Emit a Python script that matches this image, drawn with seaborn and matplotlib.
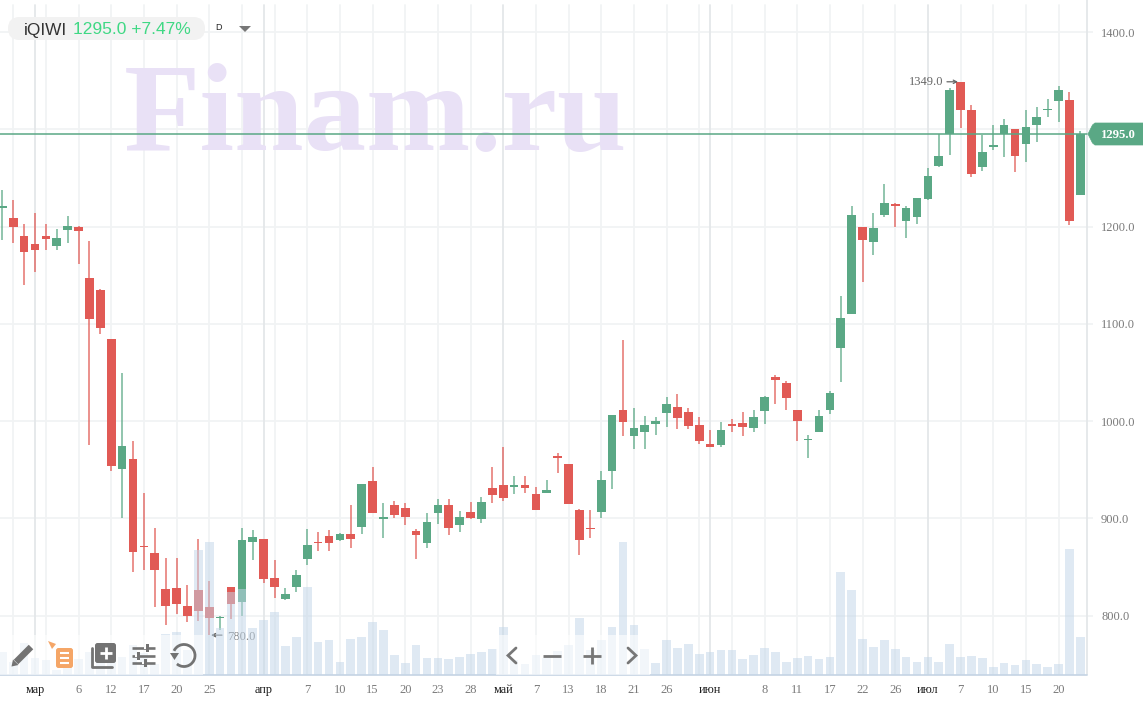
import numpy as np
import pandas as pd
import matplotlib
matplotlib.use("Agg")
import matplotlib.pyplot as plt
from matplotlib.patches import FancyBboxPatch, Polygon, Rectangle, Arc
import seaborn as sns

opens = [1219,1209,1190,1182,1190,1180,1197,1200,1147.5,1135,1085,951,961,872,864.4,827,828,810,826,809,
         798,829.5,814,876,878.5,839,817,829,858,876,882,878,883.5,891,938,899.5,914,910.6,887.4,875,
         906,914,893,906.5,899.3,931,934.5,932.8,934.5,925.6,926,964,956,909,890,907,949,1011,985,989,
         996.6,1008,1015,1009,996,977,976,997.6,998.6,993,1010,1045.4,1039,1011.7,980.4,989,1012,1075.6,1110,1200,
         1184.5,1212,1223.3,1205.5,1209.6,1228.8,1262,1295,1349,1320,1261,1282,1295,1300.6,1285.5,1304.8,1320,1329,1330,1232.6]
highs = [1238,1227.5,1203,1214,1203,1198,1211,1201,1185,1136,1085,1050,980,926.5,890.5,859.5,859.5,832,878.5,836,
         800,829.5,890.5,888,878.5,857,828.5,847,889,886,888,885,914,935,953,916,918.4,916,889.4,905.5,
         919.5,919.5,908,917,922,953,973,944,944,932,940,967,956,910,909,949,1006.5,1083,1014,1005.5,
         1004,1024.6,1028,1014,1003.8,991,999,1002.7,1009,1011,1025.6,1047.4,1041,1011.7,986,1011.7,1030.6,1129,1221,1200,
         1214,1243.6,1224.7,1221.6,1230,1260.8,1295,1343,1349,1325.4,1294.5,1304.4,1310.6,1300.6,1320,1322.6,1331,1345,1338,1298]
lows = [1186,1183,1140,1153,1176,1176,1183,1162,975,1090,949,900,845,847,809,790.4,802,794,795,780,
        785.5,797,800,857,834,818,816,824,852,866,866,877,870,884,906,880,900.3,893,858,870,
        894,882.6,886,899,895,916,918,925,926,909,926,946.4,915,862,880,900,930,985,971,971,
        986,994,991.5,991.5,977,973.4,973.4,989,985,989,997,1017.5,1012,980,962,989,1007.6,1040,1110,1143,
        1171,1210,1200,1188.6,1202.7,1227.5,1261,1274,1301,1251.5,1257,1279,1272,1256.7,1267,1286.6,1313,1308,1201.7,1232.6]
closes = [1221,1200,1174,1176,1187,1188,1201,1196,1105.5,1096,954,974,865,871,847,810,812,800,804.5,798,
          799,812,877.5,881,838,830,822,842,873,875,875,883.5,879,935,906,901.5,904,901,882.6,896,
          914,890.4,901.4,900.3,917,924.6,921,934.5,931,909,929,962,915,877.5,889,940,1006.5,999.3,993.5,996,
          1000,1018,1003,995,980,973.4,991,995,994,1003.8,1024.7,1042,1024,999.7,982,1005,1029,1105.8,1211.7,1186,
          1199,1224,1221,1219,1229.5,1252.5,1273,1340.5,1320,1254.6,1277,1283.5,1304.4,1272.5,1303,1313,1321,1340.5,1205.5,1295]
volumes = [23,13,32,17,15,5,18,16,23,28,25,18,30,22,11,41.5,43,25,125.5,133,
           47,83,86,46.6,55.5,63,29.5,38,88,33,35,13,36,38,53,44.7,19.7,12,30,17,
           17,15.7,18,20.7,23,25.7,48,15,10.7,20,17,24,30,57,25,35,48,133,50,25.7,
           12,35,27,30.7,20.7,23,24.7,24.7,15.7,19.7,27,23,13,17,19,15.7,18,103,84.7,35.7,
           28,34.7,25.7,18,13,18,13,30.7,18,19,17,8,12,9.7,14.7,10.7,8,10.7,125.7,38]

grid_idx = [1,4,7,10,13,16,19,22,25,28,31,34,37,40,43,49,52,55,58,61,64,67,70,73,76,79,82,88,91,94,97]
month_idx = [3,24,46,65,85]
tick_idx = [3,7,10,13,16,19,24,28,31,34,37,40,43,46,49,52,55,58,61,65,70,73,76,79,82,85,88,91,94,97]
tick_labels = ["мар","6","12","17","20","25","апр","7","10","15","20","23","28","май","7","13","18","21","26",
               "июн","8","11","17","22","26","июл","7","10","15","20"]
price_ticks = [800,900,1000,1100,1200,1300,1400]
price_labels = ["800.0","900.0","1000.0","1100.0","1200.0","","1400.0"]
last_price = 1295.0
price_high = 1349.0
price_low = 780.0

RED, GREEN = "#e15a55", "#5aa885"
GRID, GRID_D, TXT = "#f1f3f4", "#e4e7e9", "#7a7a7a"
SERIF = "Liberation Serif"
SANS = "Liberation Sans"

sns.set_theme(style="white")
plt.rcParams["font.family"] = [SERIF, "DejaVu Serif"]

df = pd.DataFrame({"i": np.arange(len(opens)), "open": opens, "high": highs,
                   "low": lows, "close": closes, "vol": volumes})
df["up"] = df["close"] >= df["open"]
df["color"] = np.where(df["up"], GREEN, RED)

W, H = 1143, 707
fig = plt.figure(figsize=(W / 100, H / 100), dpi=100, facecolor="white")
ax = fig.add_axes([0, 32 / H, 1093 / W, 675 / H])
ov = fig.add_axes([0, 0, 1, 1], zorder=10)
ov.set_xlim(0, W); ov.set_ylim(H, 0); ov.axis("off"); ov.patch.set_alpha(0)

XLIM = (-0.211, 100.16)
YLIM = (739.0, 1433.1)
S = 10.89
def xi(px):
    return (px - 2.3) / S

# grid
for p in price_ticks:
    ax.axhline(p, color=GRID, lw=1.3, zorder=1)
for g in grid_idx:
    ax.axvline(g, ymax=0.993, color=GRID, lw=1.3, zorder=1)
for g in month_idx:
    ax.axvline(g, ymax=0.993, color=GRID_D, lw=1.3, zorder=1)
ax.axvline(xi(1087), color=GRID_D, lw=1.3, zorder=1)

# watermark
ax.text(124, 150, "Finam.ru", transform=ov.transData, family=SERIF, weight="bold",
        fontsize=90, color="#e9e1f6", va="baseline", ha="left", zorder=1.5)

# candles
ax.vlines(df["i"], df["low"], df["high"], colors=df["color"], lw=1.3, alpha=0.72, zorder=3)
ax.bar(df["i"], (df["close"] - df["open"]).abs(), bottom=df[["open", "close"]].min(axis=1),
       width=0.8, color=df["color"], lw=0, zorder=4)

# current price line
ax.plot([XLIM[0], xi(1087)], [last_price, last_price], color=GREEN, lw=1.1, zorder=5)

# high / low marks
ax.text(xi(943), price_high, f"{price_high:.1f}", ha="right", va="center", color="#666666", fontsize=9, zorder=6)
ax.annotate("", xy=(xi(958), price_high), xytext=(xi(947), price_high), zorder=6,
            arrowprops=dict(arrowstyle="->", color="#666666", lw=0.9, mutation_scale=6, shrinkA=0, shrinkB=0))
ax.text(xi(227), price_low - 2, f"{price_low:.1f}", ha="left", va="center", color="#7f7f7f", fontsize=9, zorder=6)
ax.annotate("", xy=(xi(211), price_low), xytext=(xi(222), price_low), zorder=6,
            arrowprops=dict(arrowstyle="->", color="#666666", lw=0.9, mutation_scale=6, shrinkA=0, shrinkB=0))

# volume bars in a twin axis, over the candles
ax2 = ax.twinx()
sns.barplot(data=df, x="i", y="vol", native_scale=True, ax=ax2, color="#c3d6e8",
            saturation=1, alpha=0.52, width=0.8, linewidth=0, zorder=2)
ax2.set_ylim(0, 675)
ax2.axis("off")

ax.set_xlim(*XLIM)
ax.set_ylim(*YLIM)
ax.yaxis.tick_right()
ax.set_yticks(price_ticks, price_labels)
ax.set_xticks(tick_idx, tick_labels)
ax.tick_params(axis="y", length=0, colors=TXT, labelsize=9, pad=5.8)
ax.tick_params(axis="x", length=3.5, width=1, color="#c9d3da", labelcolor=TXT, labelsize=9, pad=3)
for tick, idx in zip(ax.xaxis.get_major_ticks(), tick_idx):
    if idx in month_idx:
        tick.label1.set_color("#1c1c1c")
        tick.label1.set_fontsize(8.8)
    else:
        tick.tick1line.set_visible(False)
for s in ax.spines.values():
    s.set_visible(False)
ax.plot([XLIM[0], xi(1087)], [YLIM[0], YLIM[0]], color="#c9d7e5", lw=1.3, clip_on=False, zorder=7)
ax.set_xlabel(""); ax.set_ylabel("")
ax.grid(False)

# price tag
ov.add_patch(Polygon([(1088, 134), (1092.5, 125), (1095, 123), (1143, 123), (1143, 145), (1095, 145), (1092.5, 143)],
                     closed=True, fc=GREEN, ec=GREEN, lw=0.5, zorder=5))
ov.text(1118, 134.5, f"{last_price:.1f}", color="white", ha="center", va="center", fontsize=9.2,
        weight="bold", family=SERIF, zorder=6)

# header pill
ov.add_patch(FancyBboxPatch((8, 17), 197, 23, boxstyle="round,pad=0,rounding_size=11.5", fc="#f2f2f2", ec="none", zorder=2))
ov.text(24, 34.5, "iQIWI", family=SANS, fontsize=12.4, color="#333333", va="baseline", zorder=3)
ov.text(73, 34.5, "1295.0 +7.47%", family=SANS, fontsize=12.5, color="#3fd884", va="baseline", zorder=3)
ov.text(219, 28, "D", family=SANS, fontsize=6.5, color="#222222", ha="center", va="center", zorder=3)
ov.add_patch(Polygon([(239, 26), (251, 26), (245, 32)], closed=True, fc="#777777", ec="none", zorder=3))

# toolbars
for x0, x1 in [(0, 203), (496, 650)]:
    ov.add_patch(Rectangle((x0, 635), x1 - x0, 39.5, fc="white", ec="none", alpha=0.6, zorder=1))
IC = "#737373"
# pencil
ov.plot([16, 31], [662, 647], color=IC, lw=4.6, solid_capstyle="butt", zorder=3)
ov.add_patch(Polygon([(11.5, 666.5), (13, 659.5), (18.5, 665)], closed=True, fc=IC, ec="none", zorder=3))
# note icon
ov.add_patch(Polygon([(48, 641), (56, 644), (52, 649)], closed=True, fc="#f5a667", ec="none", zorder=3))
ov.add_patch(FancyBboxPatch((56, 648), 17, 20, boxstyle="round,pad=0,rounding_size=2.5", fc="#f5a667", ec="none", zorder=3))
for yy in (653, 658, 663):
    ov.plot([60, 69], [yy, yy], color="white", lw=1.5, solid_capstyle="butt", zorder=4)
# layers plus
ov.add_patch(FancyBboxPatch((95, 643), 21, 20, boxstyle="round,pad=0,rounding_size=2.5", fc=IC, ec="none", zorder=3))
ov.plot([105.5, 105.5], [647, 659], color="white", lw=2, zorder=4, solid_capstyle="butt")
ov.plot([99.5, 111.5], [653, 653], color="white", lw=2, zorder=4, solid_capstyle="butt")
ov.plot([91.5, 91.5, 112], [648, 667, 667], color=IC, lw=2, zorder=3, solid_joinstyle="round")
# sliders
for yy, a in zip((648, 655.5, 663), (146, 137, 144)):
    ov.plot([132, 155], [yy, yy], color=IC, lw=1.9, zorder=3, solid_capstyle="butt")
    ov.add_patch(Rectangle((a - 2.2, yy - 1.2), 2.2, 2.4, fc="white", ec="none", zorder=4))
    ov.add_patch(Rectangle((a, yy - 4), 3, 8, fc=IC, ec="none", zorder=5))
# undo
ov.add_patch(Arc((184, 655.5), 22, 22, theta1=205, theta2=490, color=IC, lw=2, zorder=3))
ov.add_patch(Polygon([(170, 653), (179, 653), (174.5, 660)], closed=True, fc=IC, ec="none", zorder=3))
# navigation
NAV = "#777777"
ov.plot([516, 508, 516], [648, 655.5, 663], color=NAV, lw=2, zorder=3, solid_joinstyle="miter")
ov.plot([543, 561], [655.5, 655.5], color=NAV, lw=2, zorder=3, solid_capstyle="butt")
ov.plot([583, 601], [655.5, 655.5], color=NAV, lw=2, zorder=3, solid_capstyle="butt")
ov.plot([592, 592], [647, 664], color=NAV, lw=2, zorder=3, solid_capstyle="butt")
ov.plot([628, 636, 628], [648, 655.5, 663], color=NAV, lw=2, zorder=3, solid_joinstyle="miter")

fig.savefig("out.png", dpi=100, facecolor="white")
